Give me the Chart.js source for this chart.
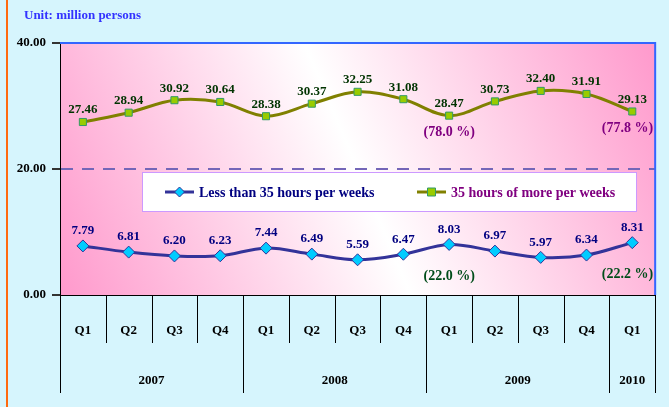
<!DOCTYPE html>
<html lang="en">
<head>
  <meta charset="UTF-8" />
  <title>Employed persons by hours worked</title>
  <script src="https://cdn.jsdelivr.net/npm/chart.js"></script>
  <style>
    html, body {
      margin: 0;
      padding: 0;
      background: #D6F5FD;
    }
    #wrap {
      position: relative;
      width: 669px;
      height: 407px;
    }
    #unit {
      position: absolute;
      left: 24px;
      top: 7px;
      font: bold 13px "Liberation Serif", serif;
      color: #3333FF;
    }
    #edge {
      position: absolute;
      left: 6px;
      top: 0;
      width: 2px;
      height: 407px;
      background: #FF6A10;
    }
  </style>
</head>
<body>
  <div id="wrap">
    <div id="edge"></div>
    <div id="unit">Unit: million persons</div>
    <canvas id="chart" width="669" height="407"></canvas>
  </div>

  <script>
    const quarters = ["Q1", "Q2", "Q3", "Q4", "Q1", "Q2", "Q3", "Q4", "Q1", "Q2", "Q3", "Q4", "Q1"];
    const years = ["2007", "2008", "2009", "2010"];
    const yearSpans = [4, 4, 4, 1];

    const under35 = [7.79, 6.81, 6.20, 6.23, 7.44, 6.49, 5.59, 6.47, 8.03, 6.97, 5.97, 6.34, 8.31];
    const over35 = [27.46, 28.94, 30.92, 30.64, 28.38, 30.37, 32.25, 31.08, 28.47, 30.73, 32.40, 31.91, 29.13];

    const shareIndex = [8, 12];
    const under35Share = ["(22.0 %)", "(22.2 %)"];
    const over35Share = ["(78.0 %)", "(77.8 %)"];

    const yTicks = [0, 20, 40];

    const serif = "'Liberation Serif', 'Times New Roman', serif";

    // pink / white / pink diagonal fill behind the plot
    const plotBg = {
      id: "plotBg",
      beforeDraw(chart) {
        const { ctx, chartArea: a } = chart;
        const g = ctx.createLinearGradient(a.left, a.bottom, a.right, a.top);
        g.addColorStop(0, "#FF99CC");
        g.addColorStop(0.5, "#FFFFFF");
        g.addColorStop(1, "#FF99CC");
        ctx.save();
        ctx.fillStyle = g;
        ctx.fillRect(a.left, a.top, a.right - a.left, a.bottom - a.top);
        ctx.restore();
      },
      afterDraw(chart) {
        const { ctx, chartArea: a } = chart;
        ctx.save();
        ctx.strokeStyle = "#3366FF";
        ctx.lineWidth = 2;
        ctx.beginPath();
        ctx.moveTo(a.left, a.top);
        ctx.lineTo(a.right, a.top);
        ctx.lineTo(a.right, a.bottom);
        ctx.stroke();
        ctx.restore();
      }
    };

    // quarter / year rows under the axis
    const yearRow = {
      id: "yearRow",
      afterDraw(chart) {
        const { ctx, chartArea: a } = chart;
        const x = chart.scales.x;
        const w = (a.right - a.left) / quarters.length;
        ctx.save();
        ctx.strokeStyle = "#000";
        ctx.lineWidth = 1;
        const yearEdges = [0];
        yearSpans.reduce((s, n) => { yearEdges.push(s + n); return s + n; }, 0);
        for (let i = 0; i <= quarters.length; i++) {
          const px = Math.round(a.left + i * w) + 0.5;
          ctx.beginPath();
          ctx.moveTo(px, a.bottom);
          ctx.lineTo(px, yearEdges.includes(i) ? a.bottom + 98 : a.bottom + 48);
          ctx.stroke();
        }
        ctx.fillStyle = "#000";
        ctx.font = "bold 13px " + serif;
        ctx.textAlign = "center";
        ctx.textBaseline = "middle";
        let start = 0;
        years.forEach((yr, k) => {
          const l = x.getPixelForValue(start) - w / 2;
          const r = x.getPixelForValue(start + yearSpans[k] - 1) + w / 2;
          ctx.fillText(yr, (l + r) / 2, a.bottom + 86);
          start += yearSpans[k];
        });
        ctx.restore();
      }
    };

    // values above points, shares below
    const valueLabels = {
      id: "valueLabels",
      afterDatasetsDraw(chart) {
        const { ctx, chartArea: a } = chart;
        ctx.save();
        ctx.textAlign = "center";
        ctx.textBaseline = "middle";
        const cfg = [
          { ds: 1, color: "#003300", up: 12, shares: over35Share, shareColor: "#800080", down: 17 },
          { ds: 0, color: "#000080", up: 15, shares: under35Share, shareColor: "#004D1A", down: 32 }
        ];
        cfg.forEach(c => {
          const pts = chart.getDatasetMeta(c.ds).data;
          const vals = chart.data.datasets[c.ds].data;
          ctx.font = "bold 13px " + serif;
          pts.forEach((p, i) => {
            ctx.fillStyle = c.color;
            let tx = p.x;
            const tw = ctx.measureText(vals[i].toFixed(2)).width;
            if (tx + tw / 2 > a.right) tx = a.right - tw / 2;
            ctx.fillText(vals[i].toFixed(2), tx, p.y - c.up);
          });
          ctx.font = "bold 14px " + serif;
          shareIndex.forEach((idx, k) => {
            const p = pts[idx];
            const tw = ctx.measureText(c.shares[k]).width;
            let tx = p.x;
            if (tx + tw / 2 > a.right - 2) tx = a.right - 2 - tw / 2;
            ctx.fillStyle = c.shareColor;
            ctx.fillText(c.shares[k], tx, p.y + c.down);
          });
        });
        ctx.restore();
      }
    };

    // boxed legend inside the plot
    const boxLegend = {
      id: "boxLegend",
      afterDraw(chart) {
        const { ctx } = chart;
        const left = 142, top = 172, right = 636, bottom = 211;
        ctx.save();
        ctx.fillStyle = "#FFFFFF";
        ctx.fillRect(left, top, right - left, bottom - top);
        ctx.strokeStyle = "#CC99FF";
        ctx.lineWidth = 1;
        ctx.strokeRect(left + 0.5, top + 0.5, right - left, bottom - top);
        const cy = 192;
        const items = [
          { ds: 0, x: 165, text: "#000080" },
          { ds: 1, x: 417, text: "#800080" }
        ];
        items.forEach(it => {
          const d = chart.data.datasets[it.ds];
          ctx.strokeStyle = d.borderColor;
          ctx.lineWidth = 3;
          ctx.beginPath();
          ctx.moveTo(it.x, cy);
          ctx.lineTo(it.x + 29, cy);
          ctx.stroke();
          const mx = it.x + 14.5;
          ctx.fillStyle = d.pointBackgroundColor;
          ctx.strokeStyle = d.pointBorderColor;
          ctx.lineWidth = 1;
          ctx.beginPath();
          if (d.pointStyle === "rectRot") {
            ctx.moveTo(mx, cy - 5); ctx.lineTo(mx + 5, cy); ctx.lineTo(mx, cy + 5); ctx.lineTo(mx - 5, cy);
            ctx.closePath();
          } else {
            ctx.rect(mx - 4, cy - 4, 8, 8);
          }
          ctx.fill();
          ctx.stroke();
          ctx.fillStyle = it.text;
          ctx.font = "bold 14px " + serif;
          ctx.textAlign = "left";
          ctx.textBaseline = "middle";
          ctx.fillText(d.label, it.x + 34, cy + 1);
        });
        ctx.restore();
      }
    };

    new Chart(document.getElementById("chart"), {
      type: "line",
      data: {
        labels: quarters,
        datasets: [
          {
            label: "Less than 35 hours per weeks",
            data: under35,
            borderColor: "#333399",
            borderWidth: 3,
            tension: 0.35,
            pointStyle: "rectRot",
            pointRadius: 6,
            pointBackgroundColor: "#00CCFF",
            pointBorderColor: "#333399",
            pointBorderWidth: 1
          },
          {
            label: "35 hours of more per weeks",
            data: over35,
            borderColor: "#808000",
            borderWidth: 3,
            tension: 0.35,
            pointStyle: "rect",
            pointRadius: 5,
            pointBackgroundColor: "#99CC00",
            pointBorderColor: "#339966",
            pointBorderWidth: 1
          }
        ]
      },
      options: {
        responsive: false,
        animation: false,
        layout: { padding: { top: 43, right: 11, bottom: 0, left: 0 } },
        plugins: {
          legend: { display: false },
          tooltip: { enabled: false }
        },
        scales: {
          x: {
            offset: true,
            grid: { display: false, drawTicks: false },
            border: { display: true, color: "#000", width: 1 },
            ticks: {
              color: "#000",
              font: { family: serif, size: 13, weight: "bold" },
              padding: 28,
              maxRotation: 0,
              autoSkip: false
            },
            afterFit(scale) { scale.height = 112; }
          },
          y: {
            min: 0,
            max: 40,
            afterBuildTicks(scale) { scale.ticks = yTicks.map(v => ({ value: v })); },
            grid: {
              color: ctx => (ctx.tick && ctx.tick.value === 20 ? "#7466B8" : "rgba(0,0,0,0)"),
              lineWidth: 2,
              tickColor: "#333",
              tickLength: 8,
              tickBorderDash: []
            },
            border: { display: true, color: "#000", width: 1, dash: [12, 9] },
            ticks: {
              color: "#000",
              font: { family: serif, size: 13, weight: "bold" },
              padding: 6,
              callback: v => Number(v).toFixed(2)
            },
            afterFit(scale) { scale.width = 60; }
          }
        }
      },
      plugins: [plotBg, yearRow, valueLabels, boxLegend]
    });
  </script>
</body>
</html>
